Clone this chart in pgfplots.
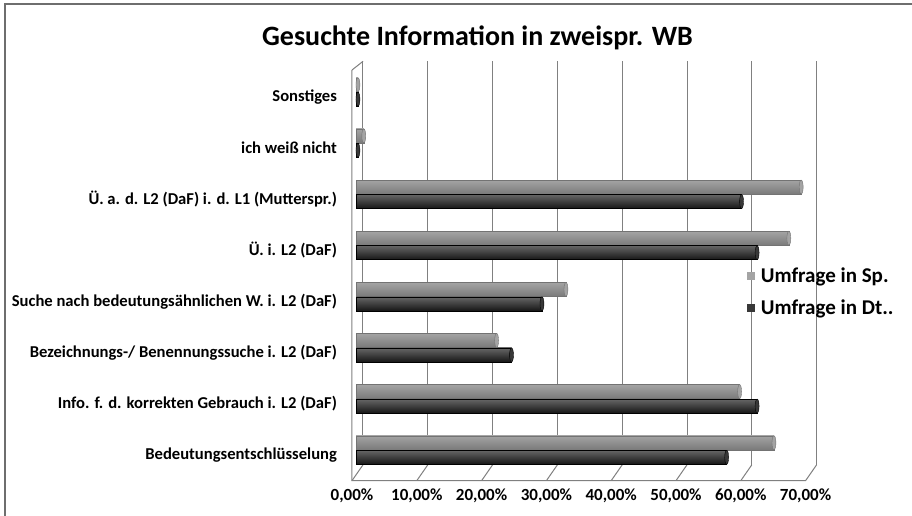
\documentclass[border=0pt]{standalone}
\usepackage{pgfplots}
\pgfplotsset{compat=1.18}
\usepackage{fontspec}
\setmainfont{Carlito}
\definecolor{spmid}{HTML}{A4A4A4}
\definecolor{splight}{HTML}{CACACA}
\definecolor{spdark}{HTML}{7A7A7A}
\definecolor{dtmid}{HTML}{383838}
\definecolor{dtlight}{HTML}{666666}
\definecolor{dtdark}{HTML}{161616}
\definecolor{gridc}{HTML}{808080}
\definecolor{framec}{HTML}{6E6E6E}
\pgfplotsset{
  spbar/.style={xbar, bar width=14pt, bar shift=7.25pt, draw=black!55, line width=0.4pt,
    top color=spmid, middle color=splight, bottom color=spdark, forget plot},
  dtbar/.style={xbar, bar width=14pt, bar shift=-7.25pt, draw=black, line width=0.4pt,
    top color=dtlight, middle color=dtmid, bottom color=dtdark, forget plot},
}
\begin{document}
\begin{tikzpicture}[x=1pt,y=1pt]
\useasboundingbox (0,0) rectangle (912,516);
\fill[white] (0,0) rectangle (912,516);
\draw[line width=2pt, framec] (4.5,-2) -- (4.5,511.5) -- (914,511.5);
\node[anchor=base, font=\bfseries\fontsize{28}{33}\selectfont] at (477.5,470) {Gesuchte Information in zweispr. WB};
\begin{axis}[
  at={(356pt,66pt)}, anchor=origin,
  x=6.48pt, y=51.14pt,
  xmin=-0.7, xmax=71.1, ymin=-0.6, ymax=7.6,
  axis line style={draw=none},
  major tick length=0pt,
  xtick={0,10,...,70},
  xticklabels={{0,00\%},{10,00\%},{20,00\%},{30,00\%},{40,00\%},{50,00\%},{60,00\%},{70,00\%}},
  xticklabel style={font=\bfseries\fontsize{17}{20}\selectfont, xshift=-4pt, yshift=-5pt},
  ytick={0,1,2,3,4,5,6,7},
  yticklabels={Bedeutungsentschlüsselung,
    Info. f. d. korrekten Gebrauch i. L2 (DaF),
    Bezeichnungs-/ Benennungssuche i. L2 (DaF),
    Suche nach bedeutungsähnlichen W. i. L2 (DaF),
    Ü. i. L2 (DaF),
    Ü. a. d. L2 (DaF) i. d. L1 (Mutterspr.),
    ich weiß nicht,
    Sonstiges},
  yticklabel style={font=\bfseries\fontsize{16.6}{19}\selectfont, xshift=-11pt, yshift=-5pt},
  clip=false,
  legend style={at={(0.843,0.45)}, anchor=west, draw=none, fill=none,
    font=\bfseries\fontsize{21}{24}\selectfont, row sep=12pt},
  legend cell align=left,
  legend image code/.code={\fill[#1] (0pt,-4.2pt) rectangle (8.4pt,4.2pt); \path (0pt,0pt) (12pt,0pt);},
]
% back wall grid
\draw[gridc, line width=1pt] (axis cs:1.08,-0.29) -- (axis cs:1.08,7.6);
\draw[gridc, line width=1pt] (axis cs:11.08,-0.29) -- (axis cs:11.08,7.6);
\draw[gridc, line width=1pt] (axis cs:21.08,-0.29) -- (axis cs:21.08,7.6);
\draw[gridc, line width=1pt] (axis cs:31.08,-0.29) -- (axis cs:31.08,7.6);
\draw[gridc, line width=1pt] (axis cs:41.08,-0.29) -- (axis cs:41.08,7.6);
\draw[gridc, line width=1pt] (axis cs:51.08,-0.29) -- (axis cs:51.08,7.6);
\draw[gridc, line width=1pt] (axis cs:61.08,-0.29) -- (axis cs:61.08,7.6);
\draw[gridc, line width=1pt] (axis cs:71.08,-0.29) -- (axis cs:71.08,7.6);
% floor and side wall
\draw[gridc, line width=1pt] (axis cs:-0.62,7.43) -- (axis cs:-0.62,-0.6) -- (axis cs:69.38,-0.6) -- (axis cs:71.08,-0.29);
\draw[gridc, line width=1pt] (axis cs:-0.62,7.43) -- (axis cs:1.08,7.6);
\draw[gridc, line width=1pt] (axis cs:-0.62,-0.6) -- (axis cs:1.08,-0.29);
\draw[gridc, line width=1pt] (axis cs:9.38,-0.6) -- (axis cs:11.08,-0.29);
\draw[gridc, line width=1pt] (axis cs:19.38,-0.6) -- (axis cs:21.08,-0.29);
\draw[gridc, line width=1pt] (axis cs:29.38,-0.6) -- (axis cs:31.08,-0.29);
\draw[gridc, line width=1pt] (axis cs:39.38,-0.6) -- (axis cs:41.08,-0.29);
\draw[gridc, line width=1pt] (axis cs:49.38,-0.6) -- (axis cs:51.08,-0.29);
\draw[gridc, line width=1pt] (axis cs:59.38,-0.6) -- (axis cs:61.08,-0.29);
% Umfrage in Sp.
\addplot[spbar] coordinates {(64.5,0)};
\addplot[spbar] coordinates {(59.2,1)};
\addplot[spbar] coordinates {(21.7,2)};
\addplot[spbar] coordinates {(32.4,3)};
\addplot[spbar] coordinates {(66.8,4)};
\addplot[spbar] coordinates {(68.7,5)};
\addplot[spbar] coordinates {(1.2,6)};
\addplot[spbar] coordinates {(0.3,7)};
% Umfrage in Dt..
\addplot[dtbar] coordinates {(57.2,0)};
\addplot[dtbar] coordinates {(61.9,1)};
\addplot[dtbar] coordinates {(24.0,2)};
\addplot[dtbar] coordinates {(28.7,3)};
\addplot[dtbar] coordinates {(61.9,4)};
\addplot[dtbar] coordinates {(59.5,5)};
\addplot[dtbar] coordinates {(0.3,6)};
\addplot[dtbar] coordinates {(0.3,7)};
% cylinder end caps
\addplot[only marks, mark=*, mark size=7pt, forget plot,
  mark options={xscale=0.28, fill=spmid, draw=black!55, line width=0.4pt, yshift=7.25pt}]
  coordinates {(64.5,0) (59.2,1) (21.7,2) (32.4,3) (66.8,4) (68.7,5) (1.2,6) (0.3,7)};
\addplot[only marks, mark=*, mark size=7pt, forget plot,
  mark options={xscale=0.28, fill=dtmid, draw=black, line width=0.4pt, yshift=-7.25pt}]
  coordinates {(57.2,0) (61.9,1) (24.0,2) (28.7,3) (61.9,4) (59.5,5) (0.3,6) (0.3,7)};
\addlegendimage{fill=spmid, draw=none}
\addlegendentry{Umfrage in Sp.}
\addlegendimage{fill=dtmid, draw=none}
\addlegendentry{Umfrage in Dt..}
\end{axis}
\end{tikzpicture}
\end{document}
